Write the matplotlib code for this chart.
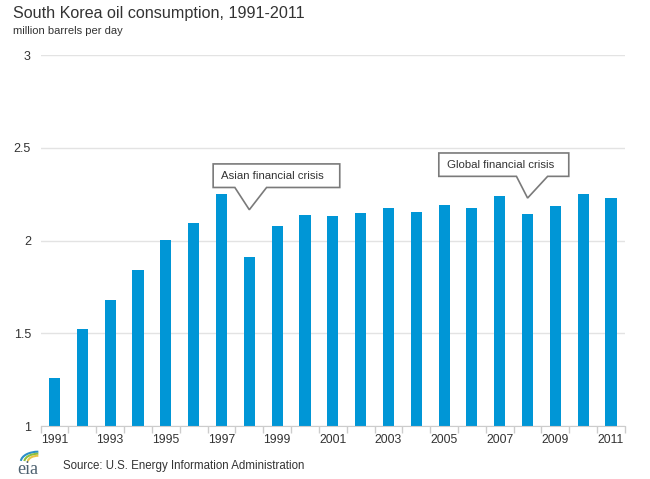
import matplotlib.pyplot as plt
from matplotlib.patches import Polygon, Arc

plt.rcParams['font.family'] = ['Liberation Sans', 'DejaVu Sans']

years = list(range(1991, 2012))
consumption = [1.257, 1.523, 1.680, 1.840, 2.005, 2.097, 2.252, 1.912, 2.079, 2.135,
               2.130, 2.151, 2.173, 2.155, 2.193, 2.177, 2.238, 2.143, 2.187, 2.252, 2.229]
year_labels = [str(y) if y % 2 == 1 else '' for y in years]

bar_color = '#0096d6'
grid_color = '#e3e3e3'
text_color = '#333333'

fig = plt.figure(figsize=(6.5, 4.79), dpi=100)
ax = fig.add_axes([0.0625, 0.1106, 0.899, 0.7745])

idx = list(range(len(years)))
ax.bar(idx, consumption, width=0.4, color=bar_color, zorder=2)

ax.set_ylim(1, 3)
ax.set_xlim(-0.5, len(years) - 0.5)
ax.set_yticks([1, 1.5, 2, 2.5, 3])
ax.set_yticklabels(['1', '1.5', '2', '2.5', '3'])
ax.grid(axis='y', color=grid_color, linewidth=1, zorder=0)
ax.tick_params(axis='y', length=0, pad=7, labelsize=9, labelcolor=text_color)

ax.set_xticks(idx[::2])
ax.set_xticklabels(year_labels[::2])
ax.set_xticks([i - 0.5 for i in idx] + [len(years) - 0.5], minor=True)
ax.tick_params(axis='x', which='major', length=0, pad=6, labelsize=8.8, labelcolor=text_color)
ax.tick_params(axis='x', which='minor', length=5, color='#cccccc', width=1)

for s in ['top', 'right', 'left']:
    ax.spines[s].set_visible(False)
ax.spines['bottom'].set_color('#cccccc')


def callout(year, tip_y, x0, x1, y0, y1, b0, b1, label):
    tx = years.index(year)
    pts = [(x0, y1), (x1, y1), (x1, y0), (b1, y0), (tx, tip_y), (b0, y0), (x0, y0)]
    ax.add_patch(Polygon(pts, closed=True, facecolor='white', edgecolor='#7a7a7a',
                         linewidth=1.2, zorder=5, clip_on=False))
    ax.text(x0 + 0.3, (y0 + y1) / 2, label, fontsize=8.2, color=text_color,
            va='center', ha='left', zorder=6)


callout(1998, 2.166, 5.70, 10.25, 2.286, 2.413, 6.48, 7.62, 'Asian financial crisis')
callout(2008, 2.229, 13.81, 18.48, 2.346, 2.472, 16.60, 17.72, 'Global financial crisis')

fig.text(0.02, 0.972, 'South Korea oil consumption, 1991-2011', fontsize=11.6,
         color=text_color, va='center', ha='left')
fig.text(0.02, 0.935, 'million barrels per day', fontsize=8, color=text_color,
         va='center', ha='left')
fig.text(0.097, 0.027, 'Source: U.S. Energy Information Administration', fontsize=8.3,
         color=text_color, va='center', ha='left')

# eia logo
fig.text(0.026, 0.02, 'eia', fontsize=13, family=['Liberation Serif'], color='#4d6170',
         va='center', ha='left')
logo = fig.add_axes([0.032, 0.036, 0.027, 0.021])
logo.set_xlim(0, 1)
logo.set_ylim(0, 1)
logo.axis('off')
for r, c in [(1.0, '#2a8fc8'), (0.8, '#8cbf3f'), (0.6, '#e8c547')]:
    logo.add_patch(Arc((1.0, 0.0), 2 * r, 2 * r, theta1=90, theta2=175, color=c,
                       lw=1.5, clip_on=False))

fig.savefig('out.png', dpi=100)
